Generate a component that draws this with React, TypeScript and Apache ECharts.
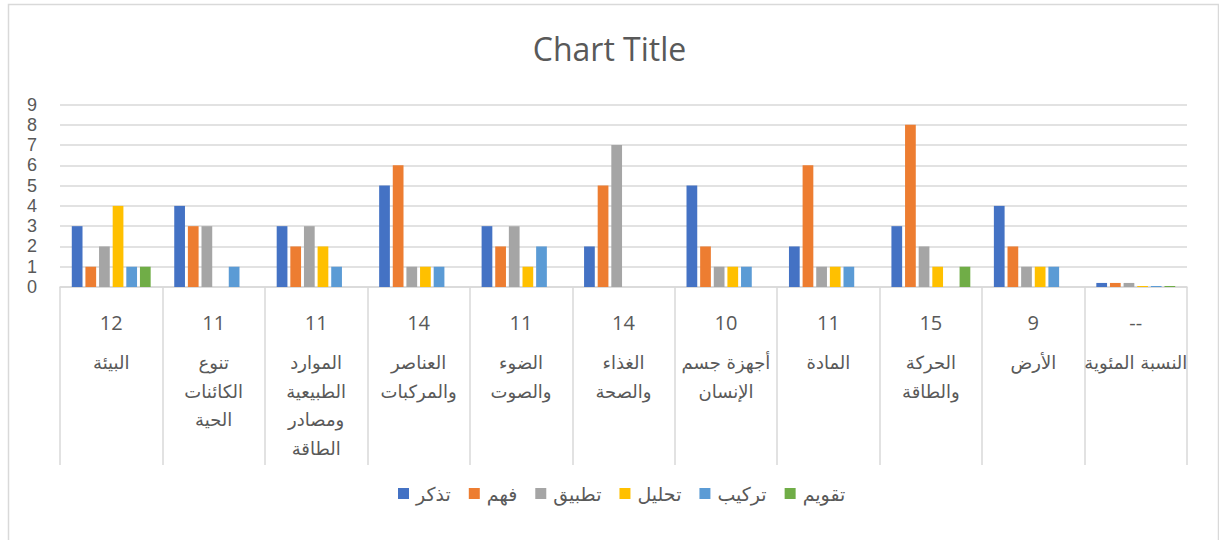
import React, { useEffect, useRef } from "react";
import * as echarts from "echarts";

const categories = [
  "البيئة",
  "تنوع\nالكائنات\nالحية",
  "الموارد\nالطبيعية\nومصادر\nالطاقة",
  "العناصر\nوالمركبات",
  "الضوء\nوالصوت",
  "الغذاء\nوالصحة",
  "أجهزة جسم\nالإنسان",
  "المادة",
  "الحركة\nوالطاقة",
  "الأرض",
  "النسبة المئوية",
];
const totals = ["12", "11", "11", "14", "11", "14", "10", "11", "15", "9", "--"];

const seriesNames = ["تذكر", "فهم", "تطبيق", "تحليل", "تركيب", "تقويم"];
const colors = ["#4472C4", "#ED7D31", "#A5A5A5", "#FFC000", "#5B9BD5", "#70AD47"];

const remember = [3, 4, 3, 5, 3, 2, 5, 2, 3, 4, 0.2];
const understand = [1, 3, 2, 6, 2, 5, 2, 6, 8, 2, 0.2];
const apply = [2, 3, 3, 1, 3, 7, 1, 1, 2, 1, 0.2];
const analyze = [4, 0, 2, 1, 1, 0, 1, 1, 1, 1, 0.05];
const synthesize = [1, 1, 1, 1, 2, 0, 1, 1, 0, 1, 0.05];
const evaluate = [1, 0, 0, 0, 0, 0, 0, 0, 1, 0, 0.05];
const seriesData = [remember, understand, apply, analyze, synthesize, evaluate];

const yTicks = { min: 0, max: 9, interval: 1 };

export default function App() {
  const ref = useRef<HTMLDivElement>(null);
  useEffect(() => {
    if (!ref.current) return;
    const chart = echarts.init(ref.current, null, { renderer: "svg" });
    const font = "'Open Sans', 'DejaVu Sans', sans-serif";
    chart.setOption({
      animation: false,
      backgroundColor: "#ffffff",
      textStyle: { fontFamily: font },
      title: {
        text: "Chart Title",
        left: "center",
        top: 27,
        textStyle: { fontSize: 32, fontWeight: "normal", color: "#595959", fontFamily: font },
      },
      graphic: [
        {
          type: "rect",
          shape: { x: 8.5, y: 4.5, width: 1210, height: 560 },
          style: { fill: "none", stroke: "#d9d9d9", lineWidth: 1.5 },
          silent: true,
        },
      ],
      legend: {
        bottom: 32,
        left: 393,
        itemWidth: 11,
        itemHeight: 11,
        itemGap: 18,
        icon: "rect",
        textStyle: { fontSize: 19, color: "#595959", fontFamily: "'DejaVu Sans', sans-serif", padding: [0, 0, 0, 2] },
        data: seriesNames,
      },
      grid: { left: 60, right: 32, top: 104.5, bottom: 253, containLabel: false },
      xAxis: {
        type: "category",
        data: categories,
        axisLine: { lineStyle: { color: "#d9d9d9", width: 1.5 } },
        axisTick: { show: true, length: 178, interval: 0, lineStyle: { color: "#d9d9d9", width: 1.5 } },
        axisLabel: {
          interval: 0,
          margin: 20,
          formatter: (value: string, idx: number) => {
            const lines = value.split("\n").map((l) => `{t|${l}}`).join("\n");
            return `{n|${totals[idx]}}\n{s| }\n${lines}`;
          },
          rich: {
            n: { fontSize: 20, lineHeight: 30, color: "#595959", fontFamily: font },
            s: { fontSize: 6, lineHeight: 11.5 },
            t: { fontSize: 18, lineHeight: 28.5, color: "#595959", fontFamily: "'DejaVu Sans', sans-serif" },
          },
        },
      },
      yAxis: {
        type: "value",
        min: yTicks.min,
        max: yTicks.max,
        interval: yTicks.interval,
        axisLine: { show: false },
        axisTick: { show: false },
        axisLabel: {
          fontSize: 18,
          lineHeight: 18,
          color: "#595959",
          margin: 23,
          fontFamily: "'Liberation Sans', Arial, sans-serif",
        },
        splitLine: { lineStyle: { color: "#d9d9d9", width: 1.5 } },
      },
      series: seriesNames.map((name, i) => ({
        name,
        type: "bar",
        data: seriesData[i],
        itemStyle: { color: colors[i] },
        barGap: "27%",
        barCategoryGap: "23%",
      })),
    });
    return () => chart.dispose();
  }, []);
  return (
    <div
      ref={ref}
      style={{ position: "fixed", left: 0, top: 0, width: 1219, height: 540 }}
    />
  );
}
